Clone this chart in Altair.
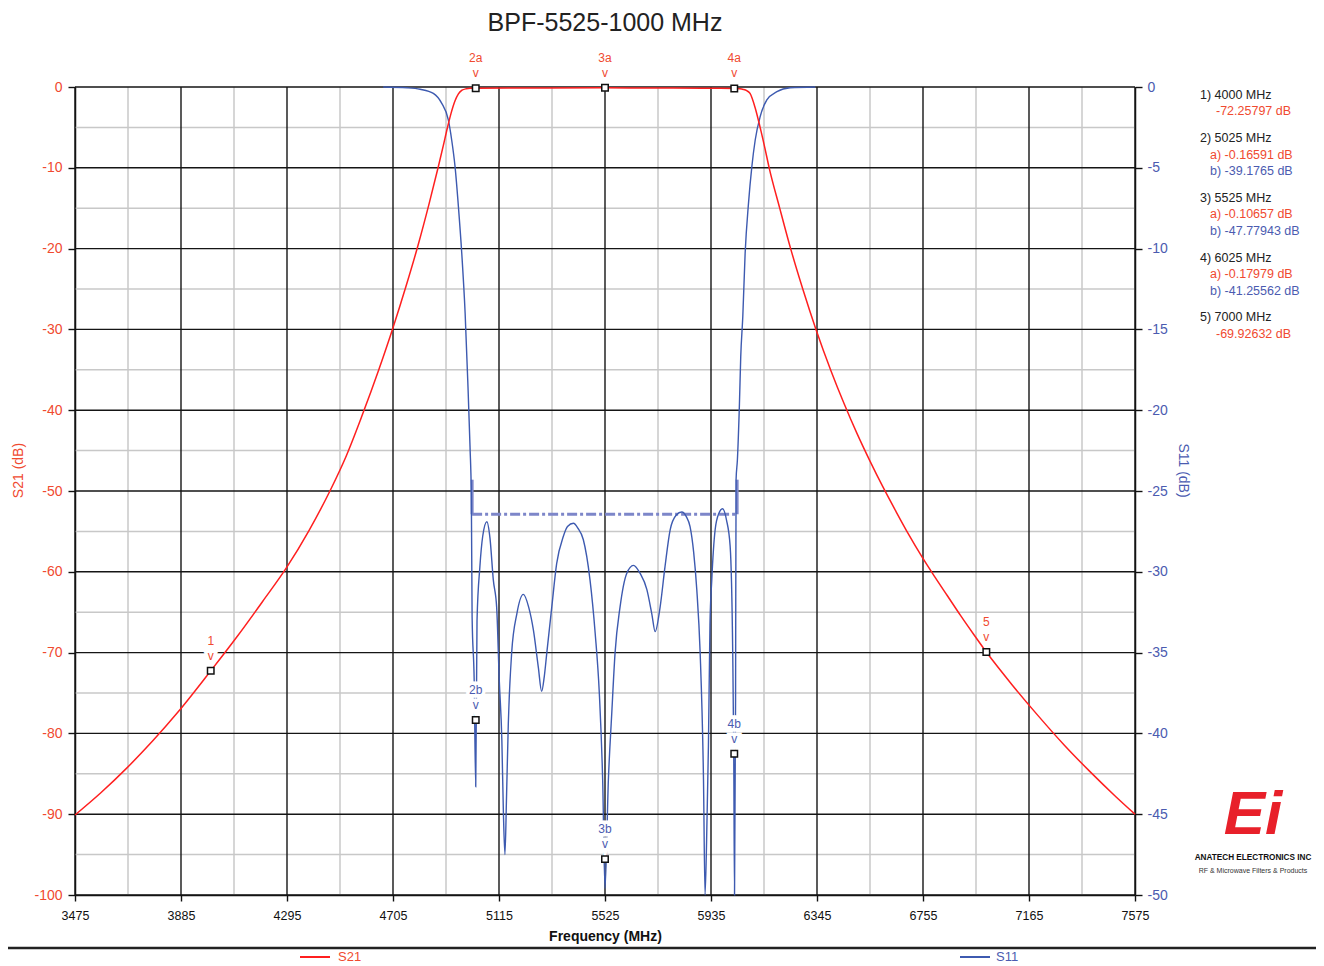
import altair as alt
import pandas as pd

# ---------------- data ----------------
s21_freq = [3475, 3575, 3675, 3775, 3875, 4000, 4100, 4200, 4295, 4380, 4461, 4525,
            4585, 4650, 4705, 4755, 4800, 4845, 4880, 4900, 4915, 4930, 4945, 4958,
            4972, 4988, 5003, 5025, 5150, 5300, 5525, 5700, 5900, 6025, 6047, 6060,
            6073, 6086, 6106, 6125, 6143, 6160, 6200, 6243, 6290, 6341, 6400, 6450,
            6500, 6550, 6600, 6650, 6700, 6750, 6800, 6850, 6900, 6950, 7000, 7100,
            7200, 7300, 7400, 7500, 7575]
s21_db = [-90.1, -87.35, -84.3, -80.95, -77.3, -72.26, -68.1, -63.7, -59.4, -54.9, -50.0, -45.6,
          -40.7, -35.0, -29.8, -24.7, -19.8, -14.4, -9.9, -7.2, -5.1, -3.2, -1.7, -0.85,
          -0.4, -0.22, -0.17, -0.166, -0.13, -0.11, -0.107, -0.12, -0.15, -0.18, -0.22, -0.3,
          -0.45, -0.8, -2.6, -5.0, -7.5, -10.0, -14.9, -20.0, -25.0, -30.0, -35.2, -39.2,
          -42.9, -46.3, -49.5, -52.5, -55.4, -58.1, -60.6, -63.0, -65.4, -67.7, -69.93, -74.0,
          -77.8, -81.4, -84.7, -87.8, -90.0]

s11_freq = [4667, 4760, 4810, 4861, 4893, 4919, 4932, 4945, 4958, 4971, 4984, 4994,
            5003, 5008, 5011, 5019, 5025, 5030, 5041, 5052, 5068, 5080, 5093, 5106,
            5116, 5126, 5132, 5138, 5144, 5151, 5164, 5184, 5209, 5230, 5248, 5267,
            5280, 5290, 5300, 5319, 5338, 5364, 5380, 5403, 5420, 5441, 5467, 5487,
            5503, 5516, 5525, 5538, 5551, 5564, 5583, 5609, 5635, 5661, 5687, 5706,
            5719, 5738, 5757, 5777, 5800, 5822, 5840, 5854, 5868, 5880, 5893, 5906,
            5912, 5920, 5925, 5931, 5938, 5951, 5965, 5980, 5995, 6009, 6019, 6023,
            6026, 6030, 6032, 6037, 6045, 6050, 6058, 6067, 6080, 6093, 6106, 6125,
            6151, 6190, 6241, 6338]
s11_db = [0.0, -0.05, -0.14, -0.4, -1.0, -2.04, -3.28, -4.93, -7.4, -10.3, -14.0, -18.1,
          -22.3, -25.3, -32.8, -36.7, -43.3, -33.0, -29.7, -27.8, -26.9, -27.9, -30.5, -32.2,
          -36.7, -40.4, -44.9, -47.5, -44.0, -39.4, -35.0, -32.6, -31.4, -32.2, -33.6, -35.9,
          -37.4, -36.5, -35.0, -32.2, -29.5, -27.8, -27.2, -27.0, -27.3, -28.0, -30.5, -33.8,
          -37.5, -42.9, -49.6, -42.9, -38.8, -35.0, -32.2, -30.1, -29.6, -30.1, -31.1, -32.6,
          -33.7, -32.2, -29.7, -27.4, -26.5, -26.3, -26.6, -27.2, -28.8, -31.1, -35.0, -42.9,
          -50.0, -45.0, -40.8, -33.3, -30.5, -27.4, -26.4, -26.1, -26.8, -28.4, -35.0, -41.3,
          -50.0, -38.0, -24.3, -23.1, -19.6, -16.7, -14.2, -10.3, -7.2, -4.93, -3.28, -1.84,
          -0.8, -0.29, -0.05, 0.0]

marker_s21_freq = [4000, 5025, 5525, 6025, 7000]
marker_s21_db = [-72.25797, -0.16591, -0.10657, -0.17979, -69.92632]
marker_s21_name = ["1", "2a", "3a", "4a", "5"]
marker_s11_freq = [5025, 5525, 6025]
marker_s11_db = [-39.1765, -47.77943, -41.25562]
marker_s11_name = ["2b", "3b", "4b"]

spec_freq = [5011, 6036]
spec_level = -26.44
spec_edge_top = -24.3

x_major = [3475, 3885, 4295, 4705, 5115, 5525, 5935, 6345, 6755, 7165, 7575]
x_minor = [3680, 4090, 4500, 4910, 5320, 5730, 6140, 6550, 6960, 7370]
y21_major = [0, -10, -20, -30, -40, -50, -60, -70, -80, -90, -100]
y21_minor = [-5, -15, -25, -35, -45, -55, -65, -75, -85, -95]
y11_major = [0, -5, -10, -15, -20, -25, -30, -35, -40, -45, -50]

title_text = "BPF-5525-1000 MHz"
info_headers = ["1) 4000 MHz", "2) 5025 MHz", "3) 5525 MHz", "4) 6025 MHz", "5) 7000 MHz"]
info_values = [
    [("", "-72.25797 dB")],
    [("a", "a) -0.16591 dB"), ("b", "b) -39.1765 dB")],
    [("a", "a) -0.10657 dB"), ("b", "b) -47.77943 dB")],
    [("a", "a) -0.17979 dB"), ("b", "b) -41.25562 dB")],
    [("", "-69.92632 dB")],
]

# ---------------- styles ----------------
FONT = "Liberation Sans, Arial, sans-serif"
RED = "#ff1f1f"
RED_TXT = "#f04a30"
BLUE = "#3d5ab0"
BLUE_TXT = "#4b5bb0"
SPEC = "#7d86c9"
GRID_MINOR = "#c8c8c8"
GRID_MAJOR = "#151515"
W, H = 1060, 808
LABEL_EXPR = "datum.value + ''"

xs = alt.Scale(domain=[3475, 7575], nice=False, zero=False)
y21s = alt.Scale(domain=[-100, 0], nice=False, zero=False)
y11s = alt.Scale(domain=[-50, 0], nice=False, zero=False)

x_axis = alt.Axis(values=x_major, labelExpr=LABEL_EXPR, title="Frequency (MHz)", grid=False,
                  labelFont=FONT, labelFontSize=12.5, labelColor="#111", labelPadding=8,
                  tickColor="#111", tickSize=6, tickWidth=1.4, domainColor="#111", domainWidth=1.5,
                  titleFont=FONT, titleFontSize=14, titleFontWeight="bold", titleColor="#111",
                  titleY=41, titleBaseline="middle", labelFlush=False)
y21_axis = alt.Axis(orient="left", values=y21_major, labelExpr=LABEL_EXPR, title="S21 (dB)", grid=False,
                    labelFont=FONT, labelFontSize=14, labelColor=RED_TXT, labelPadding=6,
                    tickColor="#111", tickSize=7, tickWidth=1.4, domainColor="#111", domainWidth=1.5,
                    titleFont=FONT, titleFontSize=14, titleFontWeight="normal", titleColor=RED_TXT,
                    titleX=-57, titleY=383, titleBaseline="middle", titleAngle=270, labelFlush=False)
y11_axis = alt.Axis(orient="right", values=y11_major, labelExpr=LABEL_EXPR, title="S11 (dB)", grid=False,
                    labelFont=FONT, labelFontSize=14, labelColor=BLUE_TXT, labelPadding=5,
                    tickColor="#111", tickSize=7, tickWidth=1.4, domainColor="#111", domainWidth=1.5,
                    titleFont=FONT, titleFontSize=14, titleFontWeight="normal", titleColor=BLUE_TXT,
                    titleX=47, titleY=383, titleBaseline="middle", titleAngle=90, labelFlush=False)


def X():
    # the same axis definition on every layer so the shared x axis merges cleanly
    return alt.X("f:Q", scale=xs, axis=x_axis)


def Y(scale, axis=None):
    return alt.Y("v:Q", scale=scale, axis=axis)


one = alt.Data(values=[{"k": 1}])


def txt(s, x, y, color, size=13, weight="normal", align="left", style="normal", font=FONT):
    return alt.Chart(one).mark_text(
        text=s, align=align, baseline="middle", fontSize=size, fontWeight=weight,
        color=color, font=font, fontStyle=style
    ).encode(x=alt.value(x), y=alt.value(y))


def hrule(x1, x2, y, color, width):
    return alt.Chart(one).mark_rule(color=color, strokeWidth=width).encode(
        x=alt.value(x1), x2=alt.value(x2), y=alt.value(y))


layers = []

# grid
layers.append(alt.Chart(pd.DataFrame({"f": x_minor})).mark_rule(
    color=GRID_MINOR, strokeWidth=1.5).encode(x=X()))
layers.append(alt.Chart(pd.DataFrame({"v": y21_minor})).mark_rule(
    color=GRID_MINOR, strokeWidth=1.5).encode(y=Y(y21s)))
layers.append(alt.Chart(pd.DataFrame({"f": x_major})).mark_rule(
    color=GRID_MAJOR, strokeWidth=1.4).encode(x=X()))
layers.append(alt.Chart(pd.DataFrame({"v": y21_major})).mark_rule(
    color=GRID_MAJOR, strokeWidth=1.4).encode(y=Y(y21s)))

df21 = pd.DataFrame({"f": s21_freq, "v": s21_db})
df11 = pd.DataFrame({"f": s11_freq, "v": s11_db})

# spec mask (S11 scale)
layers.append(alt.Chart(pd.DataFrame({"f": [spec_freq[0]], "f2": [spec_freq[1]], "v": [spec_level]}))
              .mark_rule(color=SPEC, strokeWidth=3, strokeDash=[10, 3, 3, 3])
              .encode(x=X(), x2="f2:Q", y=Y(y11s)))
layers.append(alt.Chart(pd.DataFrame({"f": spec_freq, "v": [spec_edge_top] * 2, "v2": [spec_level] * 2}))
              .mark_rule(color=SPEC, strokeWidth=3)
              .encode(x=X(), y=Y(y11s), y2="v2:Q"))

layers.append(alt.Chart(df11).mark_line(color=BLUE, strokeWidth=1.4, interpolate="monotone").encode(
    x=X(), y=Y(y11s, y11_axis)))
layers.append(alt.Chart(df21).mark_line(color=RED, strokeWidth=1.5, interpolate="monotone").encode(
    x=X(), y=Y(y21s, y21_axis)))

# markers + labels
dfm21 = pd.DataFrame({"f": marker_s21_freq, "v": marker_s21_db, "name": marker_s21_name})
dfm11 = pd.DataFrame({"f": marker_s11_freq, "v": marker_s11_db, "name": marker_s11_name})


def marker_layers(df, scale, color):
    base = alt.Chart(df).encode(x=X(), y=Y(scale))
    out = []
    for dy, enc in ((-30, "name"), (-15, None)):
        kw = dict(dy=dy, fontSize=12, font=FONT, baseline="middle", align="center")
        if enc is None:
            kw["text"] = "v"
        halo = base.mark_text(color="white", stroke="white", strokeWidth=7, **kw)
        lab = base.mark_text(color=color, **kw)
        if enc:
            halo = halo.encode(text="name:N")
            lab = lab.encode(text="name:N")
        out += [halo, lab]
    out.append(base.mark_square(size=42, fill="white", stroke="#111", strokeWidth=1.5, opacity=1))
    return out


layers += marker_layers(dfm21, y21s, RED_TXT)
layers += marker_layers(dfm11, y11s, BLUE_TXT)

# title
layers.append(txt(title_text, 530, -64, "#222", size=25, align="center"))

# marker read-out panel (right)
y = 95 - 87
for head, vals in zip(info_headers, info_values):
    layers.append(txt(head, 1125, y, "#222", size=12.5))
    for series, s in vals:
        y += 16.4
        layers.append(txt(s, 1135 if series else 1141, y,
                          BLUE_TXT if series == "b" else RED_TXT, size=12.5))
    y += 16.4 + 10.5

# bottom separator and legend
layers.append(hrule(-75, 1245, 861, "#222", 2.5))
layers.append(hrule(225, 255, 870, RED, 2))
layers.append(txt("S21", 263, 870, RED_TXT, size=13))
layers.append(hrule(885, 915, 870, BLUE, 2))
layers.append(txt("S11", 921, 870, BLUE_TXT, size=13))

# logo
layers.append(txt("Ei", 1178, 728, "#e8202a", size=62, weight="bold", align="center", style="italic"))
layers.append(txt("ANATECH ELECTRONICS INC", 1178, 771, "#111", size=8.2, weight="bold", align="center"))
layers.append(txt("RF & Microwave Filters & Products", 1178, 784, "#333", size=7, align="center"))

chart = alt.layer(*layers).resolve_scale(y="independent").properties(
    width=W, height=H,
    padding={"left": 67, "top": 79, "right": 181, "bottom": 71},
    autosize=alt.AutoSizeParams(type="none"),
    background="white",
).configure_view(stroke=None)

chart.save("out.html", embed_options={"renderer": "svg", "actions": False})
